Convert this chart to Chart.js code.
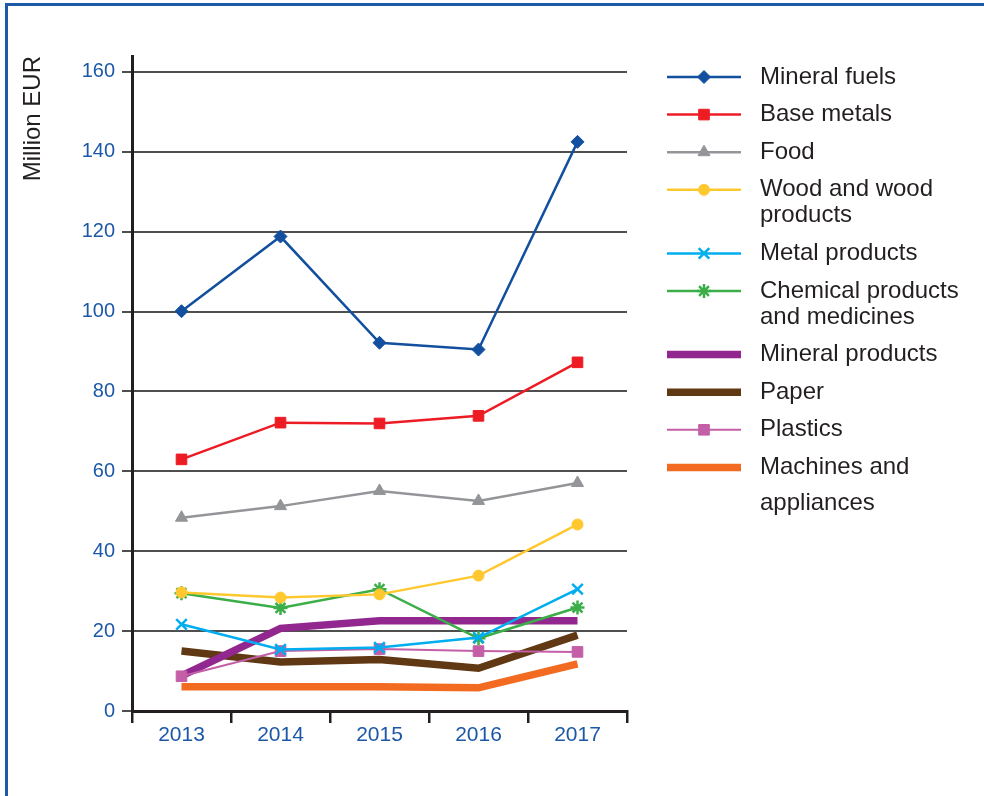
<!DOCTYPE html>
<html>
<head>
  <meta charset="utf-8">
  <title>Exports by product group, million EUR</title>
  <script src="https://cdn.jsdelivr.net/npm/chart.js"></script>
  <style>
    html, body {
      margin: 0;
      padding: 0;
      background: #fff;
      overflow: hidden;
    }
    #frame {
      position: absolute;
      left: 5px;
      top: 3px;
      width: 1100px;
      height: 900px;
      border: 3px solid #1c59a8;
    }
    #chartBox {
      position: absolute;
      left: 0;
      top: 0;
      width: 984px;
      height: 796px;
    }
  </style>
</head>
<body>
  <div id="frame"></div>
  <div id="chartBox">
    <canvas id="myChart"></canvas>
  </div>
  <script>
    // Values in million EUR
    const years = ['2013', '2014', '2015', '2016', '2017'];
    const yTicks = [0, 20, 40, 60, 80, 100, 120, 140, 160];

    const mineralFuels    = [100.1, 118.8, 92.2, 90.5, 142.5];
    const baseMetals      = [63.0, 72.2, 72.0, 73.9, 87.3];
    const food            = [48.4, 51.3, 55.1, 52.6, 57.1];
    const woodProducts    = [29.7, 28.4, 29.2, 33.9, 46.7];
    const metalProducts   = [21.7, 15.4, 15.9, 18.4, 30.5];
    const chemicals       = [29.5, 25.8, 30.5, 18.2, 25.9];
    const mineralProducts = [8.8, 20.7, 22.6, 22.6, 22.6];
    const paper           = [15.0, 12.3, 12.9, 10.7, 19.0];
    const plastics        = [8.7, 15.0, 15.5, 15.0, 14.8];
    const machines        = [6.1, 6.1, 6.1, 5.8, 11.8];

    const seriesNames = [
      'Mineral fuels', 'Base metals', 'Food', 'Wood and wood\nproducts', 'Metal products',
      'Chemical products\nand medicines', 'Mineral products', 'Paper', 'Plastics', 'Machines and\nappliances'
    ];
    const seriesData = [
      mineralFuels, baseMetals, food, woodProducts, metalProducts,
      chemicals, mineralProducts, paper, plastics, machines
    ];

    const TEXT = '#231f20';
    const BLUE_TEXT = '#1c58a6';
    const FONT = '"Liberation Sans", Arial, Helvetica, sans-serif';

    // look of each series: thin lines carry markers, thick ones don't
    const styles = [
      { color: '#124f9f', width: 2.5, point: 'rectRot', radius: 6.5 },
      { color: '#ed1c24', width: 2.5, point: 'rect', radius: 7.5 },
      { color: '#939598', width: 2.5, point: 'triangle', radius: 7 },
      { color: '#ffc82e', width: 2.5, point: 'circle', radius: 5.5 },
      { color: '#00aeef', width: 2.5, point: 'crossRot', radius: 7.5 },
      { color: '#3cae49', width: 2.5, point: 'star', radius: 7 },
      { color: '#92278f', width: 7.5, point: false, radius: 0 },
      { color: '#603813', width: 7.5, point: false, radius: 0 },
      { color: '#c45fa7', width: 2, point: 'rect', radius: 7.5 },
      { color: '#f26b21', width: 7.5, point: false, radius: 0 }
    ];

    const datasets = seriesData.map((values, i) => {
      const s = styles[i];
      const thick = s.width > 5;
      return {
        label: seriesNames[i].replace('\n', ' '),
        data: values,
        borderColor: s.color,
        backgroundColor: s.color,
        borderWidth: s.width,
        tension: 0,
        pointStyle: s.point,
        pointRadius: s.radius,
        pointHoverRadius: s.radius,
        pointBorderWidth: (s.point === 'crossRot' || s.point === 'star') ? 2.5 : 1,
        // thick bands sit underneath the thin marker lines
        order: thick ? 1 : 0
      };
    });

    // legend on the right, drawn onto the same canvas
    const sideLegend = {
      id: 'sideLegend',
      afterDraw(chart) {
        const ctx = chart.ctx;
        const lineX0 = 667, lineX1 = 741, markX = 704, textX = 760;
        let y = 77;
        ctx.save();
        ctx.font = '24px ' + FONT;
        ctx.textBaseline = 'middle';
        ctx.textAlign = 'left';
        datasets.forEach((ds, i) => {
          const s = styles[i];
          ctx.strokeStyle = s.color;
          ctx.fillStyle = s.color;
          ctx.lineWidth = s.width;
          ctx.beginPath();
          ctx.moveTo(lineX0, y);
          ctx.lineTo(lineX1, y);
          ctx.stroke();
          if (s.point) {
            ctx.lineWidth = ds.pointBorderWidth;
            Chart.helpers.drawPoint(ctx, {
              pointStyle: s.point,
              radius: s.radius,
              borderWidth: ds.pointBorderWidth,
              rotation: 0
            }, markX, y);
          }
          ctx.fillStyle = TEXT;
          const lines = seriesNames[i].split('\n');
          const wrapGap = i === datasets.length - 1 ? 36 : 26;
          lines.forEach((t, k) => {
            ctx.fillText(t, textX, y);
            if (k < lines.length - 1) y += wrapGap;
          });
          y += 37.6;
        });
        ctx.restore();
      }
    };

    const ctx = document.getElementById('myChart').getContext('2d');
    new Chart(ctx, {
      type: 'line',
      data: { labels: years, datasets: datasets },
      plugins: [sideLegend],
      options: {
        responsive: true,
        maintainAspectRatio: false,
        animation: false,
        events: [],
        layout: {
          padding: { left: 15, top: 56, right: 357, bottom: 45 }
        },
        plugins: {
          legend: { display: false },
          tooltip: { enabled: false }
        },
        scales: {
          x: {
            offset: true,
            afterFit: scale => { scale.height = 40; },
            grid: {
              offset: true,
              drawOnChartArea: false,
              drawTicks: true,
              tickLength: 12,
              color: TEXT,
              lineWidth: 2.5
            },
            border: { color: TEXT, width: 3 },
            ticks: {
              color: BLUE_TEXT,
              font: { family: FONT, size: 21 },
              padding: 0,
              maxRotation: 0
            }
          },
          y: {
            min: 0,
            max: 164,
            afterFit: scale => { scale.width = 117; },
            afterBuildTicks: scale => {
              scale.ticks = yTicks.map(v => ({ value: v }));
            },
            grid: {
              color: '#4f4f4f',
              lineWidth: 2,
              tickLength: 10
            },
            border: { color: TEXT, width: 3 },
            ticks: {
              color: BLUE_TEXT,
              font: { family: FONT, size: 20 },
              padding: 7
            },
            title: {
              display: true,
              text: 'Million EUR',
              align: 'end',
              color: TEXT,
              font: { family: FONT, size: 24 },
              padding: { top: 4, bottom: 0 }
            }
          }
        }
      }
    });
  </script>
</body>
</html>
